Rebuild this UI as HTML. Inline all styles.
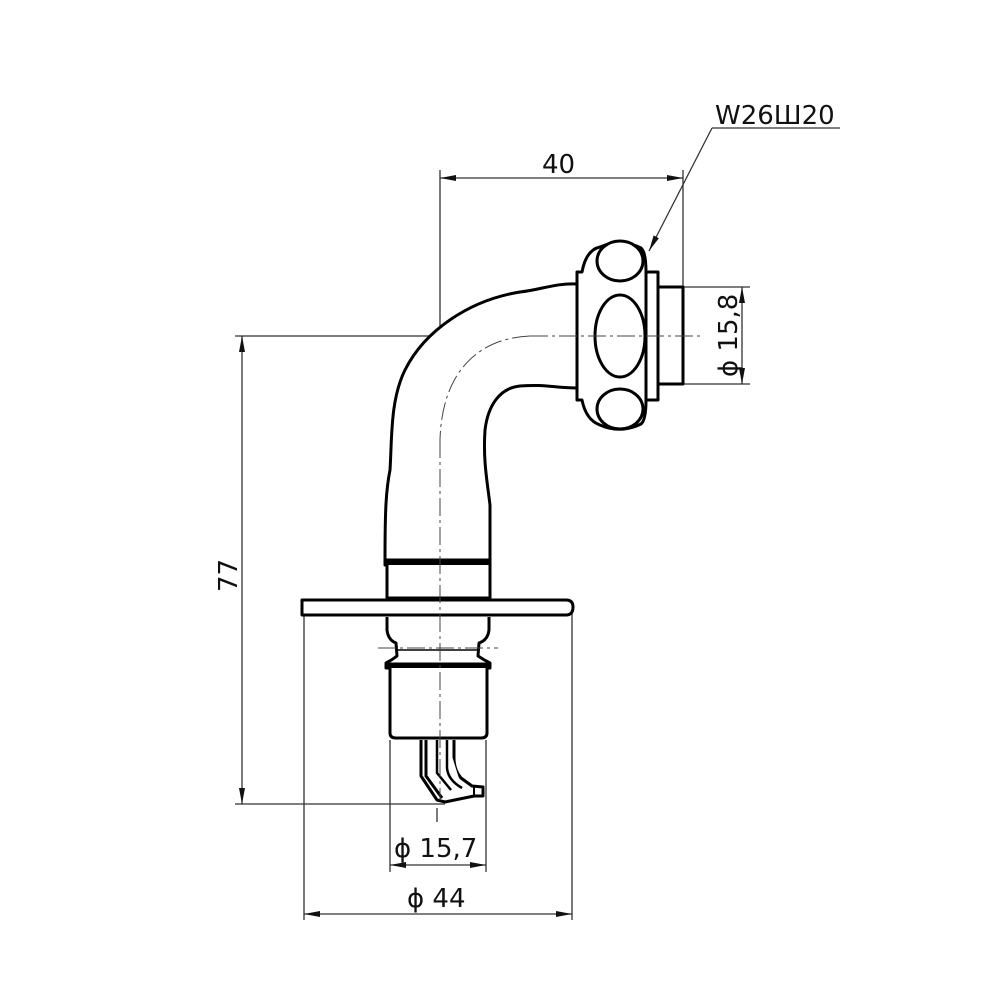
<!DOCTYPE html>
<html><head><meta charset="utf-8"><style>
html,body{margin:0;padding:0;background:#fff;}
svg{display:block;}
text{font-family:"DejaVu Sans","Liberation Sans",sans-serif;font-size:26px;fill:#111;}
</style></head><body>
<svg width="1000" height="1000" viewBox="0 0 1000 1000" xmlns="http://www.w3.org/2000/svg">
<defs>
<marker id="a" viewBox="0 0 16 6" refX="16" refY="3" markerWidth="16" markerHeight="6" orient="auto-start-reverse" markerUnits="userSpaceOnUse">
<path d="M0,0 L16,3 L0,6 Z" fill="#111"/></marker>
</defs>
<g stroke="#333" stroke-width="1.3" fill="none">
<line x1="440" y1="170" x2="440" y2="340"/>
<line x1="683" y1="170" x2="683" y2="287"/>
<line x1="440" y1="178" x2="683" y2="178" marker-start="url(#a)" marker-end="url(#a)"/>
<line x1="712" y1="128" x2="840" y2="128"/>
<line x1="712" y1="128" x2="649" y2="251" marker-end="url(#a)"/>
<line x1="683" y1="287" x2="750" y2="287"/>
<line x1="683" y1="384" x2="750" y2="384"/>
<line x1="742" y1="287" x2="742" y2="384" marker-start="url(#a)" marker-end="url(#a)"/>
<line x1="235" y1="336" x2="440" y2="336"/>
<line x1="235" y1="804" x2="445" y2="804"/>
<line x1="242" y1="336" x2="242" y2="804" marker-start="url(#a)" marker-end="url(#a)"/>
<line x1="390" y1="740" x2="390" y2="872"/>
<line x1="486" y1="740" x2="486" y2="872"/>
<line x1="390" y1="865" x2="486" y2="865" marker-start="url(#a)" marker-end="url(#a)"/>
<line x1="304" y1="615" x2="304" y2="920"/>
<line x1="572" y1="612" x2="572" y2="920"/>
<line x1="304" y1="914" x2="572" y2="914" marker-start="url(#a)" marker-end="url(#a)"/>
<line x1="437" y1="808" x2="437" y2="822"/>
</g>
<g stroke="#000" stroke-width="3" fill="#fff" stroke-linejoin="round">
<path d="M577,284 C555,283 540,290 520,292 C470,300 425,330 405,370 C390,400 392,440 390,470 C386,490 385,510 385,560 L490,560 L490,505 C487,480 483,460 485,430 C488,405 500,388 520,386 C545,384 555,388 577,388 Z"/>
<rect x="385" y="560" width="105" height="5" fill="#000"/>
<path d="M387,565 L387,598 L490,598 L490,565"/>
<path d="M302,600 L566,600 Q573,600 573,607 Q573,615 566,615 L302,615 Z"/>
<path d="M387,617 L387,630 Q388,640 396,643 L397,656 Q392,660 386,663 L386,668 L490,668 L490,663 Q484,660 478,656 L479,643 Q488,640 489,630 L489,617"/>
<line x1="397" y1="650" x2="479" y2="650" stroke-width="1.5"/>
<line x1="386" y1="665" x2="490" y2="665" stroke-width="5"/>
<path d="M390,668 L390,733 Q390,738 396,738 L481,738 Q487,738 487,733 L487,668"/>
<path d="M421,740 L421,776 L437,800 L445,802 L474,796 L483,796 L483,787 L472,786 L461,778 Q454,770 454,758 L454,740" stroke-width="3"/>
<path d="M426,740 L426,776 L442,798" stroke-width="3"/>
<path d="M437,740 L437,773 L451,790" stroke-width="2.5"/>
<path d="M447,740 L447,768 Q448,780 462,788" stroke-width="2.5"/>
<line x1="474" y1="787" x2="474" y2="796" stroke-width="2"/>
<path d="M577,272 L582,272 Q586,250 600,247 Q620,238 641,248 Q646,252 646,272 L646,400 Q646,420 641,424 Q620,434 600,425 Q586,420 582,400 L577,400 Z"/>
<ellipse cx="620" cy="261" rx="23" ry="20"/>
<ellipse cx="620" cy="336" rx="25" ry="41"/>
<ellipse cx="620" cy="409" rx="23" ry="20"/>
<rect x="646" y="272" width="12" height="128"/>
<rect x="658" y="287" width="25" height="97"/>
</g>
<g stroke="#444" stroke-width="1" fill="none" stroke-dasharray="18,4,3,4">
<line x1="440" y1="440" x2="440" y2="800"/>
<line x1="530" y1="336" x2="700" y2="336"/>
<path d="M530,336 C480,338 442,370 440,440"/>
<line x1="378" y1="648" x2="498" y2="648"/>
</g>
<text x="542" y="173">40</text>
<text x="715" y="124">W26Ш20</text>
<text transform="translate(737,377) rotate(-90)">ϕ 15,8</text>
<text transform="translate(237,592) rotate(-90)">77</text>
<text x="394" y="857">ϕ 15,7</text>
<text x="407" y="907">ϕ 44</text>
</svg>
</body></html>
